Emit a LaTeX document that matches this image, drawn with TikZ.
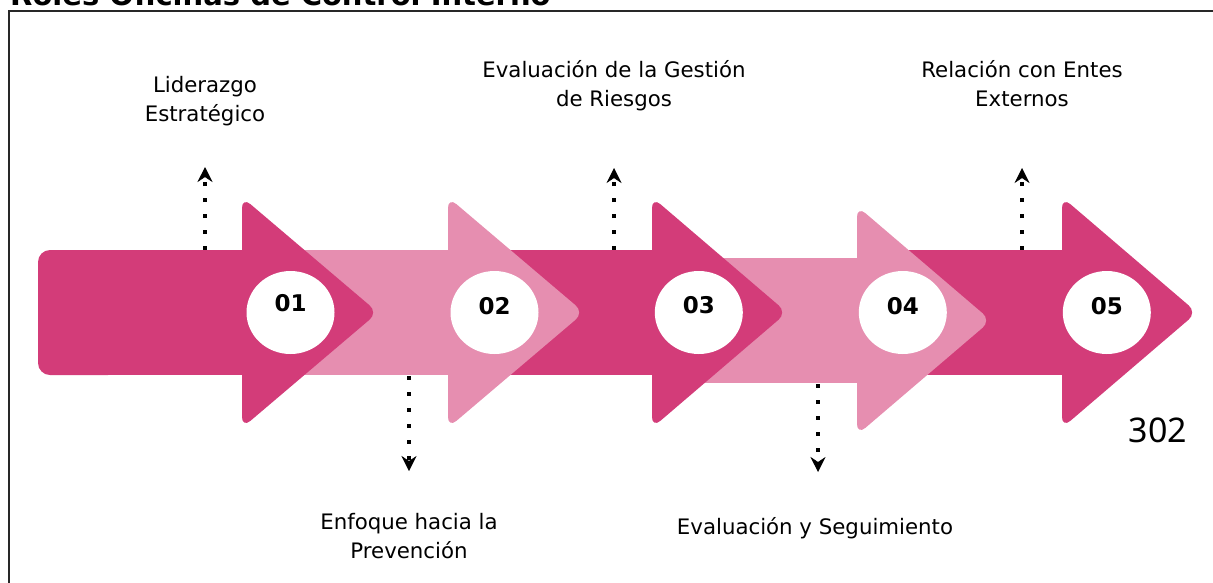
\documentclass[tikz,border=0pt]{standalone}
\usepackage{fontspec}
\setmainfont{DejaVu Sans}
\newfontfamily\pagfont{Noto Sans}
\usepackage{xcolor}
\usepackage{tikz}
\usetikzlibrary{arrows.meta, positioning, shapes.geometric}

\definecolor{rosaosc}{RGB}{211,60,121}
\definecolor{rosacla}{RGB}{230,142,176}
\definecolor{marco}{RGB}{40,40,40}

\begin{document}
\begin{tikzpicture}[
            x=1pt, y=-1pt,                     % un punto por pixel de la imagen
            node distance=40pt,
            cuerpo/.style={
                fill=#1,
                draw=none
            },
            punta/.style={
                fill=#1,
                draw=none,
                rounded corners=11pt
            },
            circulo/.style={
                ellipse,
                fill=white,
                draw=none,
                minimum width=88pt,
                minimum height=83pt
            },
            numero/.style={
                inner sep=0pt,
                font=\fontsize{23}{26}\selectfont\bfseries
            },
            etiqueta/.style={
                inner sep=0pt,
                align=center,
                font=\fontsize{21.3}{29}\selectfont
            },
            linea/.style={
                draw,
                line width=4pt,
                dash pattern=on 4pt off 12pt,
                -{Stealth[length=15pt, width=15pt, inset=5pt, line width=0.5pt]}
            }
        ]
            \useasboundingbox (0,0) rectangle (1213,582);
            \clip (0,0) rectangle (1213,582);

            % --- TITULO Y MARCO ---
            \node [anchor=base west, inner sep=0pt, font=\fontsize{29}{34}\selectfont\bfseries] (titulo) at (10,5) {Roles Oficinas de Control Interno};
            \draw [marco, line width=1.5pt] (9,600) -- (9,11) -- (1230,11);

            % --- COORDENADAS DE LOS ENLACES ---
            \coordinate (s1) at (205,250);
            \coordinate (e1) at (205,167);
            \coordinate (s2) at (409,376);
            \coordinate (e2) at (409,471);
            \coordinate (s3) at (614,250);
            \coordinate (e3) at (614,168);
            \coordinate (s4) at (818,384);
            \coordinate (e4) at (818,472);
            \coordinate (s5) at (1022,250);
            \coordinate (e5) at (1022,168);

            % --- ENLACES ---
            \path [linea] (s1) -- (e1);
            \path [linea] (s2) -- (e2);
            \path [linea] (s3) -- (e3);
            \path [linea] (s4) -- (e4);
            \path [linea] (s5) -- (e5);

            % --- FLECHAS (de la ultima a la primera) ---
            \fill [cuerpo=rosaosc] (857,250) rectangle (1070,375);
            \fill [punta=rosaosc] (1062,312.5) -- (1062,197) -- (1197,312.5) -- (1062,428) -- cycle;

            \fill [cuerpo=rosacla] (652,258) rectangle (865,383);
            \fill [punta=rosacla] (857,320.5) -- (857,206) -- (991,320.5) -- (857,435) -- cycle;

            \fill [cuerpo=rosaosc] (448,250) rectangle (660,375);
            \fill [punta=rosaosc] (652,312.5) -- (652,197) -- (787,312.5) -- (652,428) -- cycle;

            \fill [cuerpo=rosacla] (242,250) rectangle (455,375);
            \fill [punta=rosacla] (448,312.5) -- (448,197) -- (584,312.5) -- (448,428) -- cycle;

            \fill [cuerpo=rosaosc, rounded corners=12pt] (38,250) rectangle (120,375);
            \fill [cuerpo=rosaosc] (80,250) rectangle (250,375);
            \fill [punta=rosaosc] (242,312.5) -- (242,197) -- (378,312.5) -- (242,428) -- cycle;

            % --- CIRCULOS Y NUMEROS ---
            \node [circulo] (c1) at (290.5,312.5) {};
            \node [circulo] (c2) at (494.5,312.5) {};
            \node [circulo] (c3) at (698.8,312.5) {};
            \node [circulo] (c4) at (902.8,312.5) {};
            \node [circulo] (c5) at (1106.8,312.5) {};

            \node [numero, yshift=9pt] (n1) at (c1) {01};
            \node [numero, yshift=6pt] (n2) at (c2) {02};
            \node [numero, yshift=7.5pt] (n3) at (c3) {03};
            \node [numero, yshift=6pt] (n4) at (c4) {04};
            \node [numero, yshift=6pt] (n5) at (c5) {05};

            % --- ETIQUETAS ---
            \node [etiqueta, above=41pt of e1] (lider) {Liderazgo\\Estratégico};
            \node [etiqueta, below=42pt of e2] (enfoque) {Enfoque hacia la\\Prevención};
            \node [etiqueta, above=57pt of e3] (riesgos) {Evaluación de la Gestión\\de Riesgos};
            \node [etiqueta, below=45pt of e4, xshift=-3pt] (seguim) {Evaluación y Seguimiento};
            \node [etiqueta, above=61pt of e5] (entes) {Relación con Entes\\Externos};

            \node [inner sep=0pt, font=\pagfont\fontsize{34}{40}\selectfont] (pagina) at (1158,430) {302};
        \end{tikzpicture}
\end{document}
